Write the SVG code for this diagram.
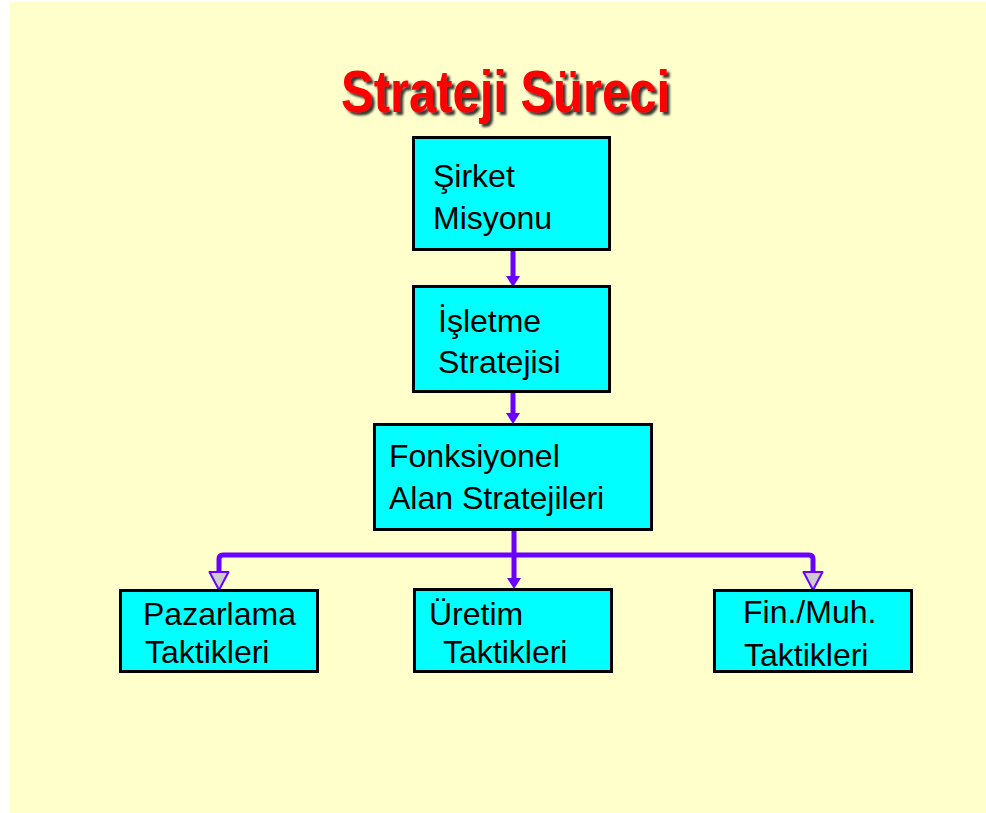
<svg xmlns="http://www.w3.org/2000/svg" width="986" height="813" viewBox="0 0 986 813">
<style>
.box{fill:#00FFFF;stroke:#000;stroke-width:3}
.lbl{font-family:"Liberation Sans",Arial,sans-serif;font-size:32px;fill:#000}
.con{fill:none;stroke:#6A00FF;stroke-width:5}
.title{font-family:"Liberation Sans",Arial,sans-serif;font-weight:bold;font-size:59px;fill:#FF0000}
</style>
<defs>
<filter id="sh" x="-10%" y="-30%" width="120%" height="160%">
<feDropShadow dx="3" dy="3" stdDeviation="1.2" flood-color="#222" flood-opacity="0.9"/>
</filter>
<marker id="af" markerUnits="userSpaceOnUse" viewBox="0 -8 12 16" refX="0" refY="0" markerWidth="12" markerHeight="16" orient="auto">
<path d="M0,-7 L11,0 L0,7 z" fill="#6A00FF"/>
</marker>
<marker id="ah" markerUnits="userSpaceOnUse" viewBox="-2 -12 22 24" refX="0" refY="0" markerWidth="22" markerHeight="24" orient="auto">
<path d="M0,-9.5 L18,0 L0,9.5 z" fill="#CCCCCC" stroke="#6A00FF" stroke-width="2" stroke-linejoin="round"/>
</marker>
</defs>
<rect x="0" y="0" width="986" height="813" fill="#FFFFFF"/>
<rect x="10" y="2" width="976" height="811" fill="#FFFFCC"/>
<text class="title" x="505.5" y="112" text-anchor="middle" textLength="329" lengthAdjust="spacingAndGlyphs" filter="url(#sh)">Strateji Süreci</text>
<g id="connectors">
<path class="con" d="M513,251 L513,276" marker-end="url(#af)"/>
<path class="con" d="M513,393 L513,413" marker-end="url(#af)"/>
<path class="con" d="M514,531 L514,578" marker-end="url(#af)"/>
<path class="con" d="M514,555 L223,555 Q219,555 219,559 L219,572" marker-end="url(#ah)"/>
<path class="con" d="M514,555 L809,555 Q813,555 813,559 L813,572" marker-end="url(#ah)"/>
</g>
<g id="sirket">
<rect class="box" x="413.5" y="137.5" width="196" height="112"/>
<text class="lbl" x="433" y="187">Şirket</text>
<text class="lbl" x="433" y="229">Misyonu</text>
</g>
<g id="isletme">
<rect class="box" x="413.5" y="286.5" width="196" height="105"/>
<text class="lbl" x="438" y="332">İşletme</text>
<text class="lbl" x="438" y="373">Stratejisi</text>
</g>
<g id="fonksiyonel">
<rect class="box" x="374.5" y="424.5" width="277" height="105"/>
<text class="lbl" x="389" y="467">Fonksiyonel</text>
<text class="lbl" x="389" y="509">Alan Stratejileri</text>
</g>
<g id="pazarlama">
<rect class="box" x="120.5" y="590.5" width="197" height="81"/>
<text class="lbl" x="143" y="625">Pazarlama</text>
<text class="lbl" x="145" y="663">Taktikleri</text>
</g>
<g id="uretim">
<rect class="box" x="414.5" y="589.5" width="197" height="82"/>
<text class="lbl" x="429" y="625">Üretim</text>
<text class="lbl" x="443" y="663">Taktikleri</text>
</g>
<g id="finmuh">
<rect class="box" x="714.5" y="590.5" width="197" height="81"/>
<text class="lbl" x="743" y="623">Fin./Muh.</text>
<text class="lbl" x="744" y="666">Taktikleri</text>
</g>
</svg>
